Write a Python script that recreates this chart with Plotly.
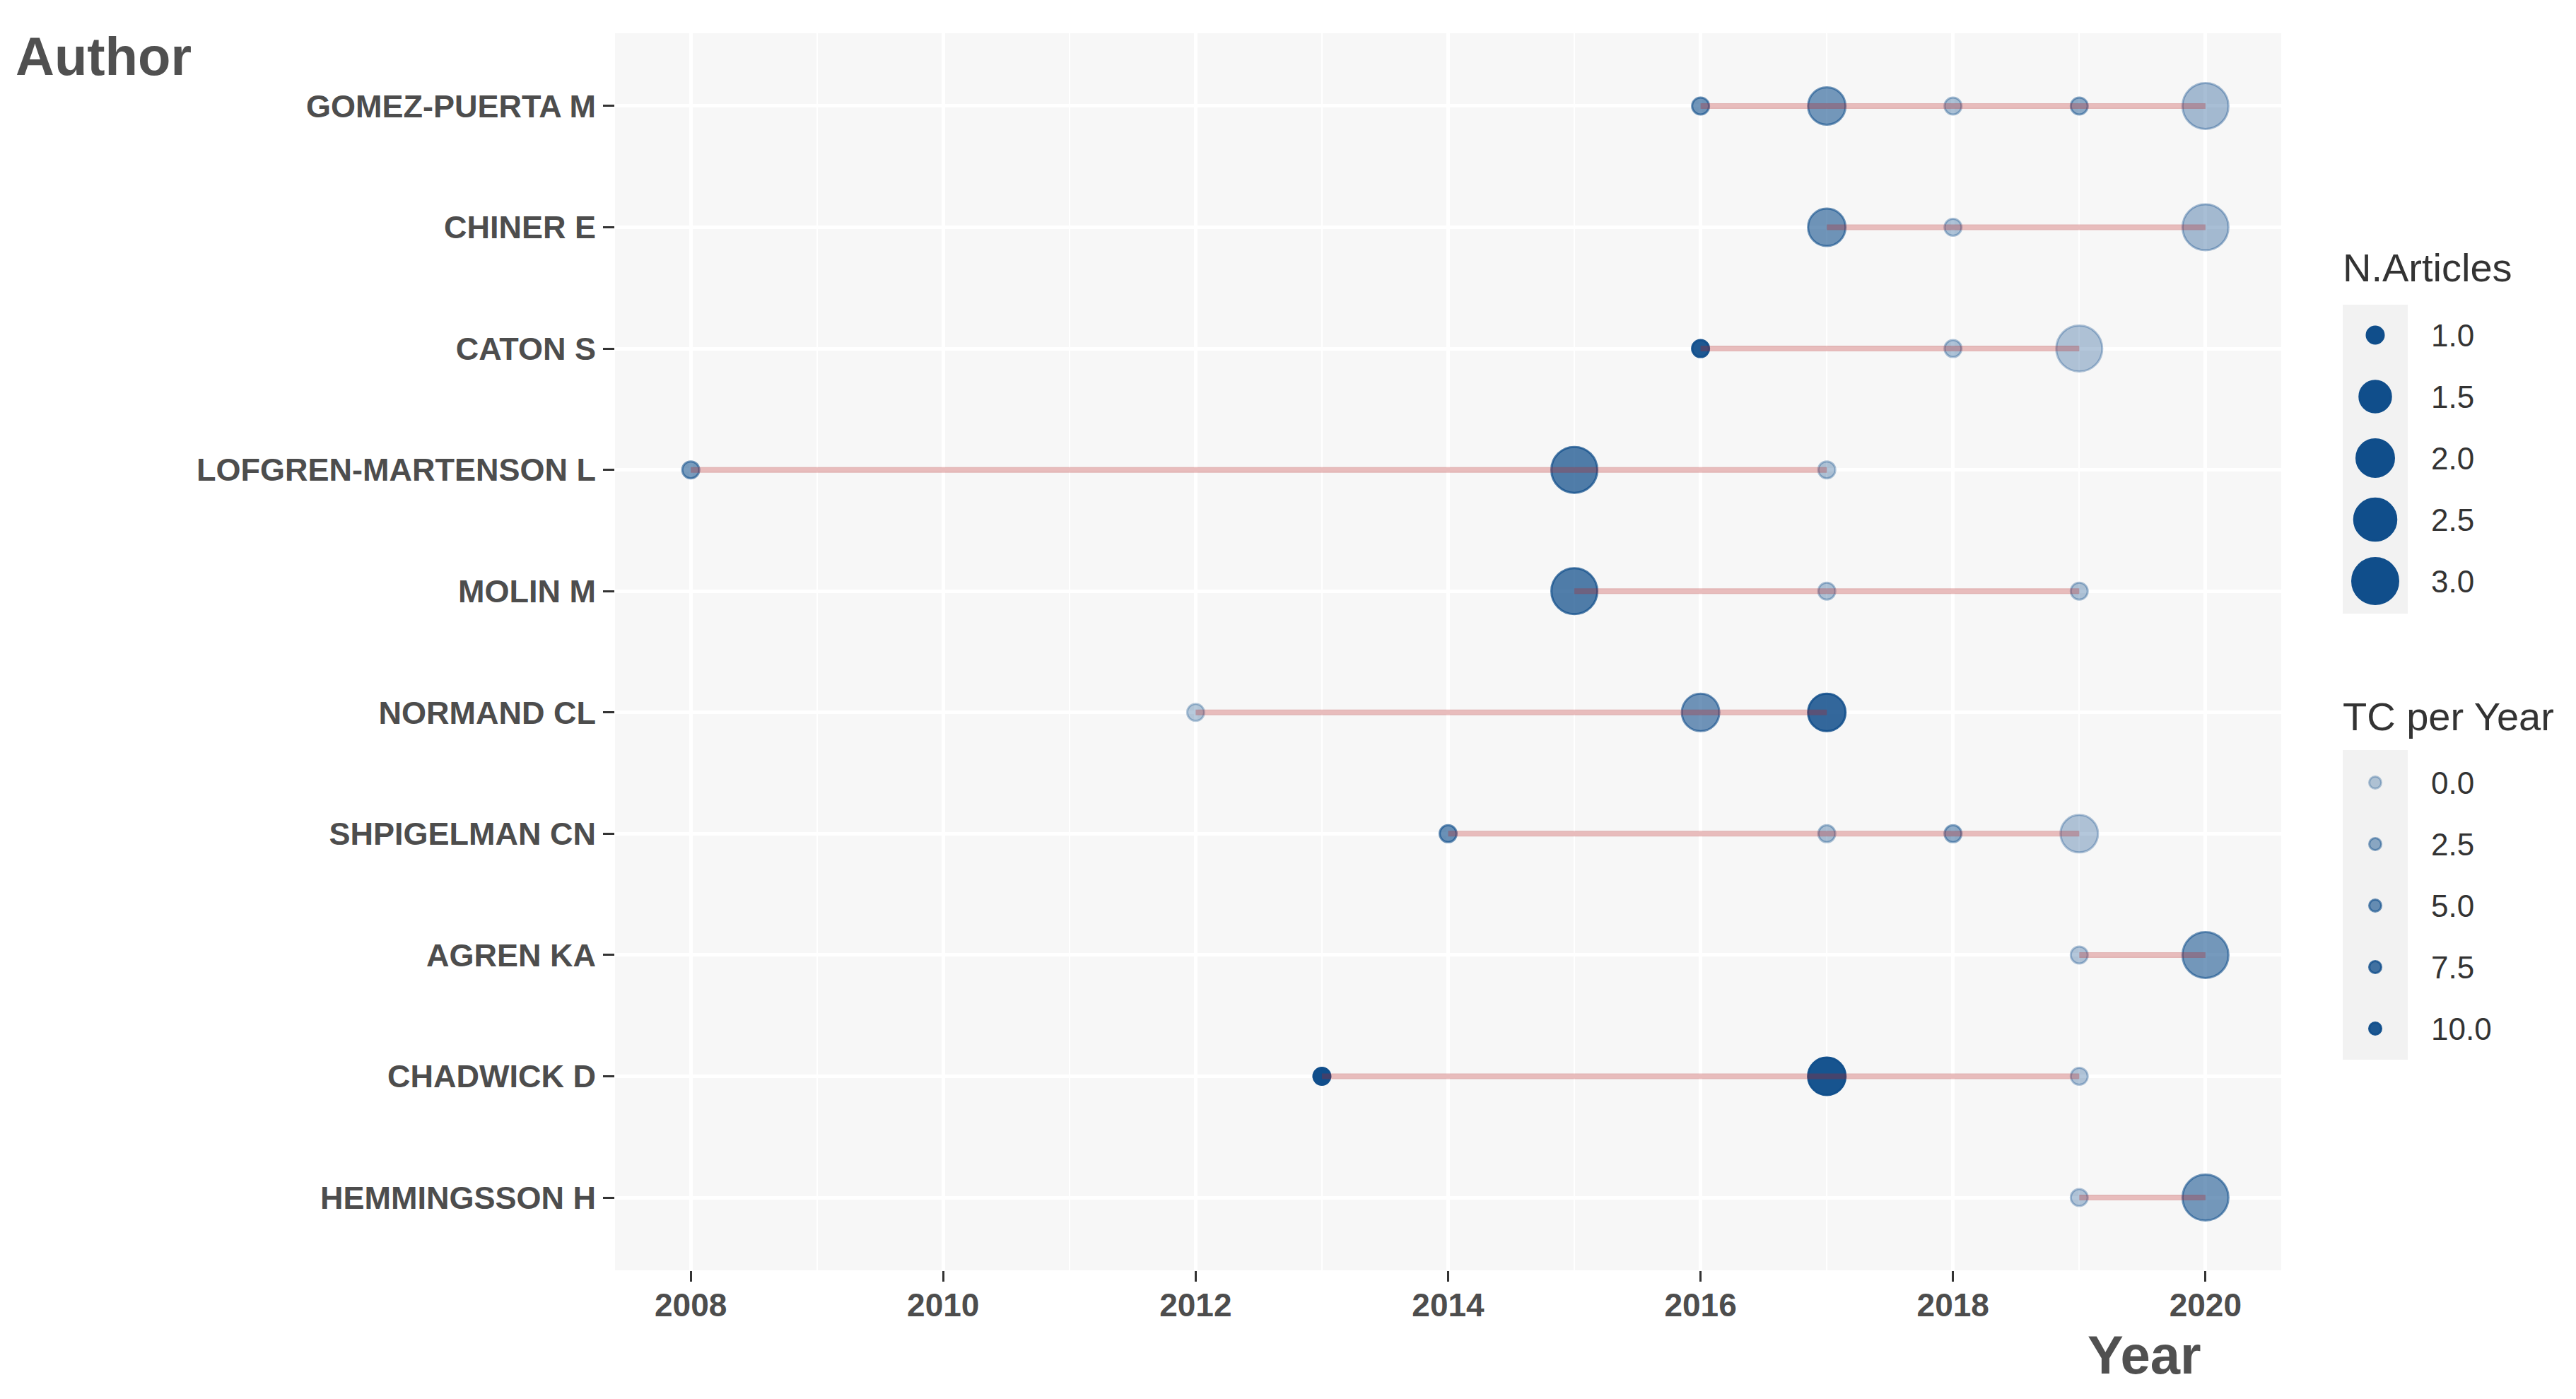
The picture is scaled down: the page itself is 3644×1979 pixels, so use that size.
import numpy as np
import plotly.graph_objects as go

# ---------------- data ----------------
authors = ["GOMEZ-PUERTA M", "CHINER E", "CATON S", "LOFGREN-MARTENSON L", "MOLIN M",
           "NORMAND CL", "SHPIGELMAN CN", "AGREN KA", "CHADWICK D", "HEMMINGSSON H"]

pt_author = (["GOMEZ-PUERTA M"] * 5 + ["CHINER E"] * 3 + ["CATON S"] * 3 +
             ["LOFGREN-MARTENSON L"] * 3 + ["MOLIN M"] * 3 + ["NORMAND CL"] * 3 +
             ["SHPIGELMAN CN"] * 4 + ["AGREN KA"] * 2 + ["CHADWICK D"] * 3 +
             ["HEMMINGSSON H"] * 2)
pt_year = [2016, 2017, 2018, 2019, 2020,
           2017, 2018, 2020,
           2016, 2018, 2019,
           2008, 2015, 2017,
           2015, 2017, 2019,
           2012, 2016, 2017,
           2014, 2017, 2018, 2019,
           2019, 2020,
           2013, 2017, 2019,
           2019, 2020]
pt_articles = [1, 2, 1, 1, 3,
               2, 1, 3,
               1, 1, 3,
               1, 3, 1,
               3, 1, 1,
               1, 2, 2,
               1, 1, 1, 2,
               1, 3,
               1, 2, 1,
               1, 3]
pt_tc = [4.5, 4.2, 0.8, 2.5, 1.0,
         4.5, 0.6, 1.0,
         9.9, 0.6, 0.2,
         4.0, 6.6, 0.4,
         6.6, 0.4, 0.4,
         0.0, 4.6, 8.5,
         5.0, 0.8, 2.5, 0.2,
         0.2, 4.2,
         10.8, 10.3, 0.2,
         0.2, 4.2]

size_breaks = [1.0, 1.5, 2.0, 2.5, 3.0]
tc_breaks = [0.0, 2.5, 5.0, 7.5, 10.0]

# ---------------- scales ----------------
W, H = 3644, 1979
PX_L, PX_R, PX_T, PX_B = 870, 3227, 47, 1797
BLUE = (16, 78, 139)
LW = 3

n_min, n_max = min(pt_articles), max(pt_articles)
tc_min, tc_max = min(pt_tc), max(pt_tc)


def diam(n):
    s = 2 + 4 * np.sqrt((n - n_min) / (n_max - n_min))
    return 6.5 + 10.25 * s - LW


def alpha(v):
    return 0.3 + 0.7 * (v - tc_min) / (tc_max - tc_min)


def rgba(a):
    return "rgba(%d,%d,%d,%.3f)" % (BLUE[0], BLUE[1], BLUE[2], a)


sizes = [diam(n) for n in pt_articles]
cols = [rgba(alpha(v)) for v in pt_tc]

fig = go.Figure()

# points
fig.add_trace(go.Scatter(
    x=pt_year, y=pt_author, mode="markers",
    marker=dict(size=sizes, color=cols, opacity=1, line=dict(color=cols, width=LW)),
    hoverinfo="x+y", cliponaxis=False))

# production span lines (on top)
for a in authors:
    yrs = [y for y, au in zip(pt_year, pt_author) if au == a]
    fig.add_trace(go.Scatter(
        x=[min(yrs), max(yrs)], y=[a, a], mode="lines",
        line=dict(color="rgba(178,34,34,0.3)", width=8),
        hoverinfo="skip"))

# ---------------- legend (manual, on a side axis in page pixels) ----------------
LEG_X0 = 3270
KEY_X = 3360
LAB_X = 3437
STEP = 87
SIZE_Y0 = 474
TC_Y0 = 1107

size_ys = [SIZE_Y0 + i * STEP for i in range(len(size_breaks))]
tc_ys = [TC_Y0 + i * STEP for i in range(len(tc_breaks))]

fig.add_trace(go.Scatter(
    x=[KEY_X] * len(size_breaks), y=size_ys, xaxis="x2", yaxis="y2", mode="markers",
    marker=dict(size=[diam(v) for v in size_breaks], color=rgba(1.0), opacity=1,
                line=dict(color=rgba(1.0), width=LW)),
    hoverinfo="skip"))
tc_cols = [rgba(alpha(v)) for v in tc_breaks]
fig.add_trace(go.Scatter(
    x=[KEY_X] * len(tc_breaks), y=tc_ys, xaxis="x2", yaxis="y2", mode="markers",
    marker=dict(size=17, color=tc_cols, opacity=1, line=dict(color=tc_cols, width=LW)),
    hoverinfo="skip"))

shapes = [
    dict(type="rect", xref="x domain", yref="y domain", x0=0, x1=1, y0=0, y1=1,
         fillcolor="#F7F7F7", line=dict(width=0), layer="below"),
    dict(type="rect", xref="x2", yref="y2", x0=3314, x1=3406,
         y0=size_ys[0] - 43, y1=size_ys[-1] + 46,
         fillcolor="#F2F2F2", line=dict(width=0), layer="below"),
    dict(type="rect", xref="x2", yref="y2", x0=3314, x1=3406,
         y0=tc_ys[0] - 46, y1=tc_ys[-1] + 44,
         fillcolor="#F2F2F2", line=dict(width=0), layer="below"),
]

LEG_FONT = dict(family="Liberation Sans, Arial, sans-serif", size=44, color="#333333")
TIT_FONT = dict(family="Liberation Sans, Arial, sans-serif", size=56, color="#333333")
annotations = []
for v, y in zip(size_breaks, size_ys):
    annotations.append(dict(xref="x2", yref="y2", x=LAB_X, y=y, text="%.1f" % v,
                            showarrow=False, xanchor="left", yanchor="middle", font=LEG_FONT))
for v, y in zip(tc_breaks, tc_ys):
    annotations.append(dict(xref="x2", yref="y2", x=LAB_X, y=y, text="%.1f" % v,
                            showarrow=False, xanchor="left", yanchor="middle", font=LEG_FONT))
annotations.append(dict(xref="x2", yref="y2", x=3312, y=378, text="N.Articles",
                        showarrow=False, xanchor="left", yanchor="middle", font=TIT_FONT))
annotations.append(dict(xref="x2", yref="y2", x=3312, y=1013, text="TC per Year",
                        showarrow=False, xanchor="left", yanchor="middle", font=TIT_FONT))

# axis titles
AX_TITLE_FONT = dict(family="Liberation Sans, Arial, sans-serif", size=76,
                     color="#505050", weight="bold")
annotations.append(dict(xref="paper", yref="paper", x=20 / W, y=1 - 80 / H, text="Author",
                        showarrow=False, xanchor="left", yanchor="middle", font=AX_TITLE_FONT))
annotations.append(dict(xref="paper", yref="paper", x=3116 / W, y=1 - 1916 / H, text="Year",
                        showarrow=False, xanchor="right", yanchor="middle", font=AX_TITLE_FONT))

TICK_FONT_Y = dict(family="Liberation Sans, Arial, sans-serif", size=45, color="#4D4D4D",
                   weight="bold")
TICK_FONT_X = dict(family="Liberation Sans, Arial, sans-serif", size=46, color="#4D4D4D",
                   weight="bold")

fig.update_layout(
    width=W, height=H,
    margin=dict(l=0, r=0, t=0, b=0, pad=0),
    paper_bgcolor="white", plot_bgcolor="white",
    showlegend=False,
    shapes=shapes, annotations=annotations,
    xaxis=dict(domain=[PX_L / W, PX_R / W], range=[2007.4, 2020.6],
               tick0=2008, dtick=2, ticks="outside", ticklen=15, tickwidth=3,
               tickcolor="#333333", tickfont=TICK_FONT_X, ticklabelstandoff=-6,
               showgrid=True, gridcolor="white", gridwidth=4.5,
               minor=dict(tick0=2007, dtick=1, showgrid=True, gridcolor="white",
                          gridwidth=2.3, ticks=""),
               zeroline=False, showline=False, automargin=False, anchor="y"),
    yaxis=dict(domain=[1 - PX_B / H, 1 - PX_T / H], type="category",
               categoryorder="array", categoryarray=authors,
               range=[len(authors) - 1 + 0.6, -0.6],
               ticks="outside", ticklen=16, tickwidth=3, tickcolor="#333333",
               tickfont=TICK_FONT_Y, ticklabelstandoff=1,
               showgrid=True, gridcolor="white", gridwidth=5,
               zeroline=False, showline=False, automargin=False, anchor="x"),
    xaxis2=dict(domain=[LEG_X0 / W, 1], range=[LEG_X0, W], visible=False,
                anchor="y2", fixedrange=True),
    yaxis2=dict(domain=[0, 1], range=[H, 0], visible=False, anchor="x2",
                fixedrange=True),
)

fig.write_html("out.html", config={"displayModeBar": False},
               post_script="document.body.style.margin='0';document.body.style.overflow='hidden';")
